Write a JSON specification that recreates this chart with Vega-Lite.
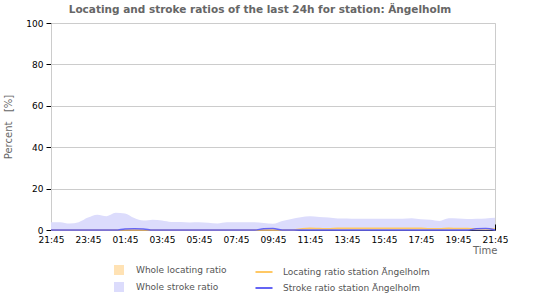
{
  "$schema": "https://vega.github.io/schema/vega-lite/v6.json",
  "width": 444,
  "height": 207,
  "autosize": {"type": "none"},
  "padding": {"left": 51, "top": 23, "right": 55, "bottom": 70},
  "background": "white",
  "title": {"text": "Locating and stroke ratios of the last 24h for station: Ängelholm", "font": "DejaVu Sans", "fontSize": 10.5, "fontWeight": "bold", "color": "#666666", "anchor": "middle", "offset": 4, "dx": -13},
  "config": {"view": {"stroke": "#cccccc"}, "font": "DejaVu Sans"},
  "data": {"values": [
    {"h": 0, "ws": 3.8, "wl": 0.3, "ls": 0, "ss": 0},
    {"h": 0.5, "ws": 3.8, "wl": 0.3, "ls": 0, "ss": 0},
    {"h": 1, "ws": 3.1, "wl": 0.3, "ls": 0, "ss": 0},
    {"h": 1.5, "ws": 3.8, "wl": 0.3, "ls": 0, "ss": 0},
    {"h": 2, "ws": 6.0, "wl": 0.4, "ls": 0, "ss": 0},
    {"h": 2.5, "ws": 7.4, "wl": 0.4, "ls": 0, "ss": 0},
    {"h": 3, "ws": 6.7, "wl": 0.4, "ls": 0, "ss": 0},
    {"h": 3.5, "ws": 8.3, "wl": 0.4, "ls": 0, "ss": 0},
    {"h": 4, "ws": 8.0, "wl": 0.4, "ls": 0, "ss": 0.5},
    {"h": 4.5, "ws": 5.8, "wl": 0.3, "ls": 0, "ss": 0.6},
    {"h": 5, "ws": 4.6, "wl": 0.3, "ls": 0, "ss": 0.5},
    {"h": 5.5, "ws": 5.0, "wl": 0.3, "ls": 0, "ss": 0},
    {"h": 6, "ws": 4.6, "wl": 0.3, "ls": 0, "ss": 0},
    {"h": 6.5, "ws": 3.9, "wl": 0.3, "ls": 0, "ss": 0},
    {"h": 7, "ws": 3.9, "wl": 0.3, "ls": 0, "ss": 0},
    {"h": 7.5, "ws": 3.6, "wl": 0.3, "ls": 0, "ss": 0},
    {"h": 8, "ws": 3.7, "wl": 0.3, "ls": 0, "ss": 0},
    {"h": 8.5, "ws": 3.5, "wl": 0.3, "ls": 0, "ss": 0},
    {"h": 9, "ws": 3.1, "wl": 0.3, "ls": 0, "ss": 0},
    {"h": 9.5, "ws": 3.7, "wl": 0.3, "ls": 0, "ss": 0},
    {"h": 10, "ws": 3.7, "wl": 0.3, "ls": 0, "ss": 0},
    {"h": 10.5, "ws": 3.7, "wl": 0.3, "ls": 0, "ss": 0},
    {"h": 11, "ws": 3.7, "wl": 0.3, "ls": 0, "ss": 0},
    {"h": 11.5, "ws": 3.4, "wl": 0.3, "ls": 0, "ss": 0.6},
    {"h": 12, "ws": 3.0, "wl": 0.3, "ls": 0, "ss": 0.7},
    {"h": 12.5, "ws": 4.3, "wl": 0.4, "ls": 0, "ss": 0},
    {"h": 13, "ws": 5.3, "wl": 0.5, "ls": 0, "ss": 0},
    {"h": 13.5, "ws": 6.1, "wl": 0.6, "ls": 0.5, "ss": 0},
    {"h": 14, "ws": 6.6, "wl": 0.7, "ls": 0.8, "ss": 0},
    {"h": 14.5, "ws": 6.3, "wl": 0.7, "ls": 0.7, "ss": 0},
    {"h": 15, "ws": 6.0, "wl": 0.7, "ls": 0.6, "ss": 0},
    {"h": 15.5, "ws": 5.6, "wl": 0.8, "ls": 0.9, "ss": 0},
    {"h": 16, "ws": 5.5, "wl": 0.8, "ls": 0.8, "ss": 0},
    {"h": 16.5, "ws": 5.4, "wl": 0.8, "ls": 0.9, "ss": 0},
    {"h": 17, "ws": 5.4, "wl": 0.8, "ls": 0.9, "ss": 0},
    {"h": 17.5, "ws": 5.4, "wl": 0.8, "ls": 0.9, "ss": 0},
    {"h": 18, "ws": 5.4, "wl": 0.8, "ls": 0.9, "ss": 0},
    {"h": 18.5, "ws": 5.4, "wl": 0.8, "ls": 0.8, "ss": 0},
    {"h": 19, "ws": 5.4, "wl": 0.8, "ls": 0.9, "ss": 0},
    {"h": 19.5, "ws": 5.7, "wl": 0.8, "ls": 0.9, "ss": 0},
    {"h": 20, "ws": 5.2, "wl": 0.8, "ls": 0.8, "ss": 0},
    {"h": 20.5, "ws": 5.0, "wl": 0.7, "ls": 0.6, "ss": 0},
    {"h": 21, "ws": 4.4, "wl": 0.7, "ls": 0.6, "ss": 0},
    {"h": 21.5, "ws": 5.7, "wl": 0.7, "ls": 0.8, "ss": 0},
    {"h": 22, "ws": 5.6, "wl": 0.7, "ls": 0.7, "ss": 0},
    {"h": 22.5, "ws": 5.3, "wl": 0.7, "ls": 0.7, "ss": 0},
    {"h": 23, "ws": 5.4, "wl": 0.7, "ls": 0.6, "ss": 0.6},
    {"h": 23.5, "ws": 5.6, "wl": 0.7, "ls": 0.6, "ss": 0.7},
    {"h": 24, "ws": 5.9, "wl": 0.7, "ls": 0.5, "ss": 0}
  ]},
  "encoding": {
    "x": {
      "field": "h", "type": "quantitative",
      "scale": {"domain": [0, 24], "nice": false, "zero": false},
      "axis": {
        "values": [0,0.5,1,1.5,2,2.5,3,3.5,4,4.5,5,5.5,6,6.5,7,7.5,8,8.5,9,9.5,10,10.5,11,11.5,12,12.5,13,13.5,14,14.5,15,15.5,16,16.5,17,17.5,18,18.5,19,19.5,20,20.5,21,21.5,22,22.5,23,23.5,24],
        "labelExpr": "datum.value % 2 === 0 ? pad(floor((datum.value + 21.75) % 24), 2, '0', 'left') + ':45' : ''",
        "tickSize": {"condition": {"test": "datum.value % 2 === 0", "value": -6}, "value": -3},
        "tickColor": "#000000",
        "domainColor": "#333366",
        "labelFontSize": 9,
        "labelColor": "#000000",
        "labelPadding": 11,
        "labelFlush": false,
        "labelOverlap": false,
        "grid": false,
        "title": "Time",
        "titleFontWeight": "normal",
        "titleColor": "#666666",
        "titleFontSize": 10,
        "titleAlign": "right",
        "titleX": 446,
        "titleY": 15
      }
    }
  },
  "layer": [
    {
      "mark": {"type": "area", "interpolate": "monotone", "opacity": 1},
      "encoding": {
        "y": {"field": "ws", "type": "quantitative", "title": "Percent\u00a0\u00a0\u00a0[%]",
          "scale": {"domain": [0, 100], "nice": false},
          "axis": {
            "values": [0,10,20,30,40,50,60,70,80,90,100],
            "labelExpr": "datum.value % 20 === 0 ? datum.value : ''",
            "tickSize": 5,
            "tickColor": "#000000",
            "domainColor": "#cccccc",
            "gridColor": "#cccccc",
            "gridOpacity": {"condition": {"test": "datum.value % 20 === 0", "value": 1}, "value": 0},
            "labelFontSize": 9,
            "labelColor": "#000000",
            "labelPadding": 3,
            "titleFontWeight": "normal",
            "titleColor": "#666666",
            "titleFontSize": 10,
            "titlePadding": 12
          }
        },
        "fill": {"datum": "Whole stroke ratio",
          "scale": {"domain": ["Whole locating ratio", "Whole stroke ratio"], "range": ["#ffe2b4", "#dcdcfc"]},
          "legend": {"orient": "none", "legendX": 63, "legendY": 242, "direction": "vertical", "title": null, "symbolType": "square", "symbolSize": 100, "symbolStrokeWidth": 0, "labelFontSize": 9, "labelColor": "#555555", "labelOffset": 12, "rowPadding": 7}
        }
      }
    },
    {
      "mark": {"type": "area", "interpolate": "monotone", "opacity": 1},
      "encoding": {
        "y": {"field": "wl", "type": "quantitative", "title": "Percent\u00a0\u00a0\u00a0[%]"},
        "fill": {"datum": "Whole locating ratio"}
      }
    },
    {
      "mark": {"type": "line", "interpolate": "monotone", "strokeWidth": 1.5},
      "encoding": {
        "y": {"field": "ls", "type": "quantitative", "title": "Percent\u00a0\u00a0\u00a0[%]"},
        "stroke": {"datum": "Locating ratio station Ängelholm",
          "scale": {"domain": ["Locating ratio station Ängelholm", "Stroke ratio station Ängelholm"], "range": ["#ffc864", "#6464f4"]},
          "legend": {"orient": "none", "legendX": 203, "legendY": 239, "direction": "vertical", "title": null, "symbolType": "stroke", "symbolSize": 290, "symbolStrokeWidth": 2, "labelFontSize": 9, "labelColor": "#555555", "labelOffset": 9, "rowPadding": 1}
        }
      }
    },
    {
      "mark": {"type": "line", "interpolate": "monotone", "strokeWidth": 1.5},
      "encoding": {
        "y": {"field": "ss", "type": "quantitative", "title": "Percent\u00a0\u00a0\u00a0[%]"},
        "stroke": {"datum": "Stroke ratio station Ängelholm"}
      }
    }
  ]
}
